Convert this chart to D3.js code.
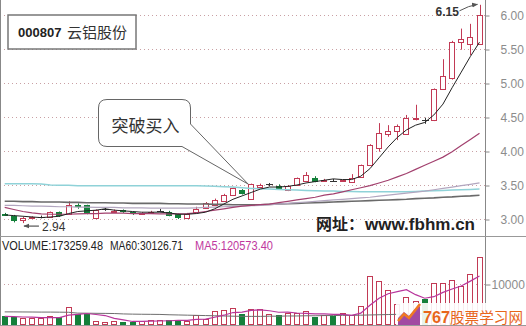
<!DOCTYPE html>
<html>
<head>
<meta charset="utf-8">
<script src="https://cdn.jsdelivr.net/npm/d3@7/dist/d3.min.js"></script>
<style>
body { margin: 0; background: #fff; }
svg { display: block; font-family: "Liberation Sans", Arial, sans-serif; }
.cjk { font-family: "Noto Sans CJK SC", sans-serif; }
</style>
</head>
<body>
<svg id="chart" width="526" height="326"></svg>
<script>
// daily candles, 000807
var opens  = [3.075,3.05,2.98,3.02,3.03,3.03,3.10,3.07,3.21,3.20,
              3.02,3.14,3.12,3.13,3.10,3.08,3.10,3.12,3.11,3.07,
              3.02,3.10,3.16,3.20,3.27,3.35,3.43,3.29,3.47,3.51,
              3.49,3.42,3.50,3.56,3.61,3.57,3.565,3.57,3.55,3.62,
              3.79,4.04,4.25,4.29,4.25,4.48,4.45,4.45,4.91,5.07,
              5.60,5.57,5.58];
var closes = [3.07,2.97,3.02,3.025,3.03,3.10,3.04,3.21,3.17,3.08,
              3.13,3.14,3.125,3.10,3.07,3.085,3.105,3.12,3.05,3.01,
              3.08,3.14,3.23,3.28,3.36,3.45,3.37,3.51,3.50,3.51,
              3.44,3.48,3.60,3.65,3.55,3.575,3.565,3.575,3.61,3.79,
              4.09,4.26,4.30,4.37,4.48,4.485,4.45,4.91,5.10,5.61,
              5.65,5.67,6.00];
var highs  = [3.09,3.06,3.03,3.04,3.05,3.11,3.11,3.26,3.23,3.21,
              3.14,3.17,3.14,3.14,3.11,3.10,3.12,3.15,3.12,3.08,
              3.09,3.18,3.25,3.30,3.37,3.46,3.44,3.52,3.52,3.53,
              3.51,3.50,3.61,3.69,3.63,3.59,3.59,3.58,3.66,3.80,
              4.10,4.41,4.38,4.39,4.53,4.68,4.49,4.92,5.35,5.62,
              5.80,5.87,6.15];
var lows   = [3.05,2.95,2.94,3.00,3.01,3.02,3.03,3.06,3.15,3.07,
              3.01,3.12,3.11,3.09,3.06,3.07,3.09,3.11,3.04,3.00,
              3.01,3.09,3.15,3.19,3.26,3.34,3.36,3.28,3.46,3.48,
              3.43,3.41,3.49,3.55,3.54,3.56,3.55,3.56,3.54,3.61,
              3.78,3.99,4.21,4.16,4.24,4.45,4.40,4.44,4.90,5.05,
              5.49,5.41,5.57];

// moving average lines
var ma5    = [3.06,3.05,3.04,3.03,3.02,3.03,3.04,3.08,3.11,3.12,
              3.13,3.15,3.13,3.12,3.11,3.10,3.10,3.10,3.09,3.07,
              3.07,3.08,3.10,3.15,3.22,3.29,3.34,3.39,3.44,3.47,
              3.47,3.48,3.50,3.53,3.55,3.57,3.59,3.58,3.58,3.63,
              3.74,3.90,4.06,4.20,4.31,4.38,4.42,4.53,4.69,4.93,
              5.16,5.39,5.60];
var maPurple = [3.17,3.14,3.11,3.09,3.075,3.07,3.07,3.07,3.075,3.08,
              3.08,3.085,3.085,3.085,3.08,3.08,3.08,3.075,3.075,3.075,
              3.08,3.09,3.11,3.13,3.15,3.17,3.19,3.20,3.21,3.22,
              3.24,3.26,3.28,3.30,3.32,3.35,3.37,3.40,3.43,3.46,
              3.49,3.53,3.57,3.62,3.67,3.73,3.79,3.85,3.91,3.99,
              4.08,4.17,4.26];
var maLight = [3.20,3.20,3.195,3.19,3.19,3.185,3.18,3.18,3.175,3.175,
              3.17,3.17,3.17,3.165,3.165,3.165,3.16,3.16,3.16,3.16,
              3.16,3.165,3.17,3.175,3.18,3.185,3.19,3.195,3.20,3.21,
              3.22,3.23,3.24,3.25,3.26,3.27,3.28,3.29,3.30,3.31,
              3.32,3.335,3.35,3.365,3.38,3.395,3.41,3.43,3.45,3.47,
              3.49,3.51,3.53];
var maDark = [3.26,3.26,3.255,3.255,3.25,3.25,3.25,3.245,3.245,3.24,
              3.24,3.24,3.235,3.235,3.23,3.23,3.23,3.23,3.225,3.225,
              3.22,3.22,3.22,3.215,3.215,3.21,3.21,3.21,3.21,3.215,
              3.22,3.225,3.23,3.235,3.24,3.245,3.25,3.255,3.26,3.265,
              3.27,3.275,3.28,3.285,3.29,3.30,3.305,3.31,3.32,3.325,
              3.335,3.34,3.35];
var maCyan = [3.52,3.52,3.52,3.52,3.515,3.50,3.495,3.495,3.49,3.49,
              3.49,3.49,3.49,3.49,3.49,3.49,3.49,3.49,3.49,3.49,
              3.49,3.49,3.485,3.48,3.475,3.47,3.46,3.45,3.445,3.44,
              3.435,3.43,3.425,3.42,3.415,3.41,3.41,3.405,3.405,3.40,
              3.40,3.40,3.40,3.40,3.40,3.405,3.41,3.415,3.42,3.425,
              3.43,3.435,3.44];

// volume (axis units) and its averages
var volumes = [2200,2000,1630,1630,1630,2200,2000,4470,2600,2760,
               980,730,980,800,800,980,1140,1140,1140,1140,
               980,2360,1540,3410,3650,4230,2760,3820,3980,2610,
               2370,2850,2850,3410,2020,2370,2200,2850,2370,4630,
               11950,10730,8460,5050,6900,5850,6410,10320,10320,10980,
               9510,12370,16660];
var volMa5 = [2100,2050,1950,1900,1820,1820,1820,2390,2580,2810,
              2560,2310,1610,1250,860,860,940,970,1040,1110,
              1110,1350,1430,1890,2390,3040,3120,3570,3690,3480,
              3110,3130,2930,2820,2700,2700,2570,2570,2360,2880,
              4800,6510,7630,8160,8620,7400,6530,6910,7960,8780,
              9510,10700,11970];
var volMa60 = [3200,3200,3180,3170,3150,3150,3130,3100,2900,2880,
               2850,2830,2800,2700,2650,2620,2600,2580,2500,2450,
               2400,2350,2300,2250,2200,2150,2100,2100,2100,2150,
               2150,2200,2200,2250,2250,2300,2300,2350,2350,2400,
               2450,2500,2550,2600,2650,2700,2750,2800,2850,2880,
               2920,2960,3010];

var priceTicks = [3.0, 3.5, 4.0, 4.5, 5.0, 5.5, 6.0];
var volTicks = [10000];
var volLegend = ["VOLUME:173259.48", "MA60:30126.71", "MA5:120573.40"];

var svg = d3.select("#chart");
var axisX = 485;
var upColor = "#c23a55", downColor = "#14803a", flatColor = "#333";

var idx = d3.range(closes.length);
var x = d3.scaleLinear().domain([0, closes.length - 1]).range([4.7, 479.5]);
var y = d3.scaleLinear().domain([3, 6]).range([219, 15]);
var yv = d3.scaleLinear().domain([0, 10000]).range([325, 284]);

function dir(i) {
    if (closes[i] > opens[i]) return 1;
    if (closes[i] < opens[i]) return -1;
    return 0;
}
function volDir(i) {
    var d = dir(i);
    if (d !== 0) return d;
    return (i > 0 && closes[i] < closes[i - 1]) ? -1 : 1;
}
function px(i) { return Math.round(x(i)); }

// dotted grid
svg.append("g").selectAll("line").data(priceTicks).join("line")
    .attr("x1", 0).attr("x2", axisX)
    .attr("y1", function(d) { return Math.round(y(d)) + 0.5; })
    .attr("y2", function(d) { return Math.round(y(d)) + 0.5; })
    .attr("stroke", "#c9a0a4").attr("stroke-dasharray", "1,3");
svg.append("g").selectAll("line").data(volTicks).join("line")
    .attr("x1", 0).attr("x2", axisX)
    .attr("y1", function(d) { return Math.round(yv(d)) + 0.5; })
    .attr("y2", function(d) { return Math.round(yv(d)) + 0.5; })
    .attr("stroke", "#c9a0a4").attr("stroke-dasharray", "1,3");

// frame
svg.append("line").attr("x1", 0.5).attr("x2", 0.5).attr("y1", 0).attr("y2", 326).attr("stroke", "#888");
svg.append("line").attr("x1", axisX + 0.5).attr("x2", axisX + 0.5).attr("y1", 0).attr("y2", 326).attr("stroke", "#888");
svg.append("line").attr("x1", 0).attr("x2", 526).attr("y1", 236.5).attr("y2", 236.5).attr("stroke", "#999");
svg.append("line").attr("x1", 0).attr("x2", 526).attr("y1", 325.5).attr("y2", 325.5).attr("stroke", "#999");

// axes
var pAxis = svg.append("g").attr("transform", "translate(" + (axisX + 0.5) + ",0.5)")
    .call(d3.axisRight(y).tickValues(priceTicks).tickFormat(d3.format(".2f")).tickSize(4).tickPadding(11));
var vAxis = svg.append("g").attr("transform", "translate(" + (axisX + 0.5) + ",0.5)")
    .call(d3.axisRight(yv).tickValues(volTicks).tickFormat(d3.format("d")).tickSize(5).tickPadding(1));
[pAxis, vAxis].forEach(function(a) {
    a.select(".domain").remove();
    a.selectAll("line").attr("stroke", "#888");
    a.selectAll("text").attr("fill", "#8c8c8c").style("font-size", "12px")
        .style("font-family", "'Liberation Sans', Arial, sans-serif");
});

// volume bars
var vg = svg.append("g");
idx.forEach(function(i) {
    var top = Math.round(yv(volumes[i]));
    if (volDir(i) > 0) {
        vg.append("rect").attr("x", px(i) - 2.5).attr("y", top + 0.5)
            .attr("width", 5).attr("height", 324 - top)
            .attr("fill", "#fff").attr("stroke", upColor);
    } else {
        vg.append("rect").attr("x", px(i) - 3).attr("y", top)
            .attr("width", 6).attr("height", 325 - top)
            .attr("fill", downColor);
    }
});

var line = function(scale) {
    return d3.line().x(function(d, i) { return x(i); }).y(function(d) { return scale(d); });
};
vg.append("path").datum(volMa60).attr("d", line(yv)).attr("fill", "none").attr("stroke", "#6e6e6e");
vg.append("path").datum(volMa5).attr("d", line(yv)).attr("fill", "none").attr("stroke", "#b8369c").attr("stroke-width", 1.2);

// candles
var cg = svg.append("g");
idx.forEach(function(i) {
    var d = dir(i);
    var col = d > 0 ? upColor : (d < 0 ? downColor : flatColor);
    cg.append("line").attr("x1", px(i) + 0.5).attr("x2", px(i) + 0.5)
        .attr("y1", y(highs[i])).attr("y2", y(lows[i])).attr("stroke", col);
    var yo = Math.round(y(opens[i])), yc = Math.round(y(closes[i]));
    if (d > 0) {
        cg.append("rect").attr("x", px(i) - 2.5).attr("y", yc + 0.5)
            .attr("width", 5).attr("height", Math.max(1, yo - yc))
            .attr("fill", "#fff").attr("stroke", col);
    } else if (d < 0) {
        cg.append("rect").attr("x", px(i) - 3).attr("y", yo)
            .attr("width", 6).attr("height", Math.max(2, yc - yo)).attr("fill", col);
    } else {
        cg.append("line").attr("x1", px(i) - 3).attr("x2", px(i) + 4)
            .attr("y1", yc + 0.5).attr("y2", yc + 0.5).attr("stroke", col);
    }
});

// average lines
var lg = svg.append("g").attr("fill", "none");
lg.append("path").datum(maCyan).attr("d", line(y)).attr("stroke", "#8fd2d8").attr("stroke-width", 1.5);
lg.append("path").datum(maDark).attr("d", line(y)).attr("stroke", "#6a6a6a").attr("stroke-width", 1.6);
lg.append("path").datum(maLight).attr("d", line(y)).attr("stroke", "#b2a6bf").attr("stroke-width", 1.2);
lg.append("path").datum(maPurple).attr("d", line(y)).attr("stroke", "#a2406e").attr("stroke-width", 1.2);
lg.append("path").datum(ma5).attr("d", line(y)).attr("stroke", "#222").attr("stroke-width", 1);

// arrow marker
svg.append("defs").append("marker").attr("id", "ah")
    .attr("viewBox", "0 0 10 10").attr("refX", 9).attr("refY", 5)
    .attr("markerWidth", 6).attr("markerHeight", 6).attr("orient", "auto")
    .append("path").attr("d", "M0,1 L10,5 L0,9 Z").attr("fill", "#555");

// high / low labels
var hi = highs.length - 1;
var lo = lows.indexOf(d3.min(lows));
svg.append("text").attr("x", x(hi) - 44).attr("y", y(highs[hi]) + 11)
    .text(d3.format(".2f")(highs[hi])).attr("fill", "#333")
    .style("font-size", "12px").style("font-weight", "bold");
svg.append("path")
    .attr("d", "M" + (x(hi) - 20) + "," + (y(highs[hi]) + 6) + " Q" + (x(hi) - 11) + "," + (y(highs[hi]) + 1) + " " + (x(hi) - 2) + "," + (y(highs[hi]) - 0.5))
    .attr("fill", "none").attr("stroke", "#555").attr("marker-end", "url(#ah)");
svg.append("line").attr("x1", x(lo) + 16).attr("x2", x(lo) + 1)
    .attr("y1", y(lows[lo]) + 3).attr("y2", y(lows[lo]) + 3)
    .attr("stroke", "#333").attr("marker-end", "url(#ah)");
svg.append("text").attr("x", x(lo) + 19).attr("y", y(lows[lo]) + 7.5)
    .text(d3.format(".2f")(lows[lo])).attr("fill", "#333").style("font-size", "12px");

// site watermark in chart
svg.append("text").attr("class", "cjk").attr("x", 316).attr("y", 230)
    .text("网址：").attr("fill", "#222").style("font-size", "16px").style("font-weight", "bold");
svg.append("text").attr("x", 365).attr("y", 230)
    .text("www.fbhm.cn").attr("fill", "#222").style("font-size", "17px").style("font-weight", "bold")
    .attr("textLength", 110).attr("lengthAdjust", "spacingAndGlyphs");

// volume legend
var legX = [2, 110, 195], legW = [101, 73, 78], legC = ["#222", "#222", "#c0389e"];
volLegend.forEach(function(t, k) {
    svg.append("text").attr("x", legX[k]).attr("y", 250).text(t)
        .attr("fill", legC[k]).style("font-size", "12.5px")
        .attr("textLength", legW[k]).attr("lengthAdjust", "spacingAndGlyphs");
});

// title box
svg.append("rect").attr("x", 8).attr("y", 15).attr("width", 128).attr("height", 34)
    .attr("fill", "#fff").attr("stroke", "#777").attr("stroke-width", 1.5);
svg.append("text").attr("x", 18).attr("y", 36.5).text("000807")
    .attr("fill", "#222").style("font-size", "13px").style("font-weight", "bold");
svg.append("text").attr("class", "cjk").attr("x", 67).attr("y", 37.5).text("云铝股份")
    .attr("fill", "#333").style("font-size", "15px");

// callout
var tip = [x(27) - 3, y(highs[27]) + 0.5];
svg.append("path")
    .attr("d", "M107,99.5 H182 Q190.5,99.5 190.5,108 V124 L" + tip[0] + "," + tip[1] +
        " L182,146.5 H107 Q98.5,146.5 98.5,138 V108 Q98.5,99.5 107,99.5 Z")
    .attr("fill", "#fff").attr("stroke", "#666");
svg.append("text").attr("class", "cjk").attr("x", 111.5).attr("y", 131.5).text("突破买入")
    .attr("fill", "#333").style("font-size", "17px");

// corner logo
var wm = svg.append("g");
wm.append("rect").attr("x", 396).attr("y", 303).attr("width", 130).attr("height", 22)
    .attr("fill", "#fff").attr("opacity", 0.9);
wm.append("path").attr("d", "M398,325 L398,318 L404,312 L409,316 L415,309 L420,306 L420,325 Z")
    .attr("fill", "#a24aa2");
wm.append("path").attr("d", "M398,321 L404,314 L409,318 L420,304")
    .attr("fill", "none").attr("stroke", "#f07a22").attr("stroke-width", 2.5);
wm.append("text").attr("x", 423).attr("y", 323).text("767")
    .attr("fill", "#e8661c").style("font-size", "16px").style("font-weight", "bold")
    .attr("textLength", 27).attr("lengthAdjust", "spacingAndGlyphs");
wm.append("text").attr("class", "cjk").attr("x", 450).attr("y", 323).text("股票学习网")
    .attr("fill", "#e8661c").style("font-size", "15px")
    .attr("textLength", 73).attr("lengthAdjust", "spacingAndGlyphs");
</script>
</body>
</html>
